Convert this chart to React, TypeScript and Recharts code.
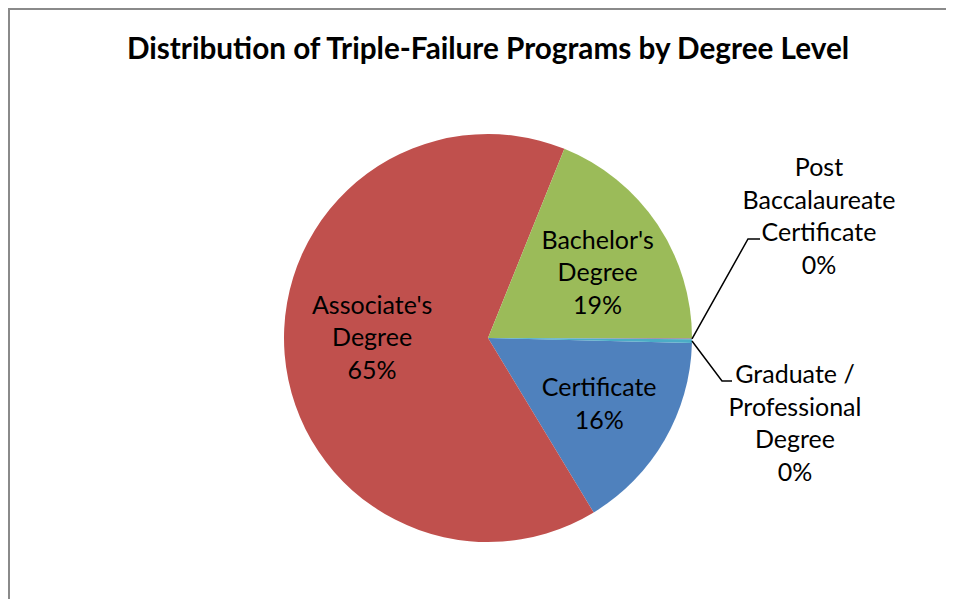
import React from "react";
import { PieChart, Pie, Cell } from "recharts";

// chart data
const categories = [
  "Certificate",
  "Associate's Degree",
  "Bachelor's Degree",
  "Post Baccalaureate Certificate",
  "Graduate / Professional Degree",
];
const shares = [16, 65, 19, 0.05, 0.3];
const labelLines = [
  ["Certificate"],
  ["Associate's", "Degree"],
  ["Bachelor's", "Degree"],
  ["Post", "Baccalaureate", "Certificate"],
  ["Graduate /", "Professional", "Degree"],
];
const colors = ["#4F81BD", "#C0504D", "#9BBB59", "#8064A2", "#4BACC6"];

const FONT = "Lato, 'Open Sans', sans-serif";
const LABEL_SIZE = 25;
const LINE_H = 32.5;
const RADIAN = Math.PI / 180;

// inside labels: distance from centre (fraction of radius) and a small nudge
const insideRadius = [0.63, 0.57, 0.63];
const insideNudge: [number, number][] = [[0, 0], [0, -11], [3, 5]];

// leader-line layout for the tiny slices, offsets from pie centre
const outside: Record<number, { elbow: [number, number]; end: number; textX: number; firstY: number }> = {
  3: { elbow: [260, -99], end: 272, textX: 331, firstY: -172 },
  4: { elbow: [234, 43], end: 244, textX: 307, firstY: 35 },
};

const data = categories.map((name, i) => ({ name, value: shares[i] }));

function renderLabel(props: any) {
  const { cx, cy, midAngle, outerRadius, percent, index } = props;
  const lines = [...labelLines[index], `${Math.round(percent * 100)}%`];
  const o = outside[index];
  if (o) {
    const ex = cx + outerRadius * Math.cos(-midAngle * RADIAN);
    const ey = cy + outerRadius * Math.sin(-midAngle * RADIAN);
    const bx = cx + o.elbow[0];
    const by = cy + o.elbow[1];
    return (
      <g key={`lbl-${index}`}>
        <polyline
          points={`${ex},${ey} ${bx},${by} ${cx + o.end},${by}`}
          fill="none"
          stroke="#000"
          strokeWidth={1.5}
        />
        <text x={cx + o.textX} y={cy + o.firstY} textAnchor="middle" dominantBaseline="central" fontFamily={FONT} fontSize={LABEL_SIZE} fill="#000">
          {lines.map((t, k) => (
            <tspan key={k} x={cx + o.textX} dy={k === 0 ? 0 : LINE_H}>
              {t}
            </tspan>
          ))}
        </text>
      </g>
    );
  }
  const r = outerRadius * insideRadius[index];
  const x = cx + r * Math.cos(-midAngle * RADIAN) + insideNudge[index][0];
  const y = cy + r * Math.sin(-midAngle * RADIAN) + insideNudge[index][1];
  const top = y - ((lines.length - 1) * LINE_H) / 2;
  return (
    <text key={`lbl-${index}`} x={x} y={top} textAnchor="middle" dominantBaseline="central" fontFamily={FONT} fontSize={LABEL_SIZE} fill="#000">
      {lines.map((t, k) => (
        <tspan key={k} x={x} dy={k === 0 ? 0 : LINE_H}>
          {t}
        </tspan>
      ))}
    </text>
  );
}

export default function App() {
  return (
    <div
      style={{
        position: "relative",
        width: 946,
        height: 591,
        boxSizing: "border-box",
        borderTop: "2px solid #8a8a8a",
        borderLeft: "2px solid #8a8a8a",
        background: "#fff",
        overflow: "hidden",
      }}
    >
      <div
        style={{
          position: "absolute",
          left: 0,
          top: 19,
          width: 956,
          textAlign: "center",
          fontFamily: FONT,
          fontWeight: "bold",
          fontSize: 29.7,
          color: "#000",
          lineHeight: "38px",
        }}
      >
        Distribution of Triple-Failure Programs by Degree Level
      </div>
      <PieChart
        width={944}
        height={589}
        margin={{ top: 0, right: 0, bottom: 0, left: 0 }}
        style={{ position: "absolute", left: 0, top: 0 }}
      >
        <Pie
          data={data}
          dataKey="value"
          nameKey="name"
          cx={478}
          cy={328}
          outerRadius={204}
          startAngle={-1.4}
          endAngle={-361.4}
          stroke="none"
          label={renderLabel}
          labelLine={false}
          isAnimationActive={false}
        >
          {data.map((d, i) => (
            <Cell key={d.name} fill={colors[i]} />
          ))}
        </Pie>
      </PieChart>
    </div>
  );
}
